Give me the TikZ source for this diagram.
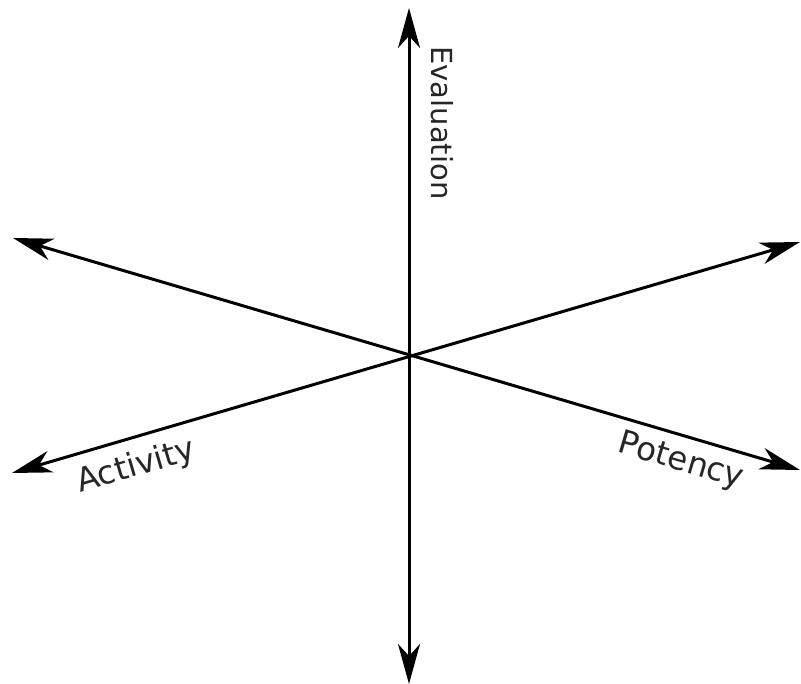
\documentclass[tikz,border=0pt]{standalone}
\usepackage{fontspec}
\setmainfont{DejaVu Sans}
\usetikzlibrary{arrows.meta}
\begin{document}
\begin{tikzpicture}[x=1pt,y=-1pt,
  axis/.style={line width=3pt,{Stealth[length=40pt,width=22pt,inset=12pt]}-{Stealth[length=40pt,width=22pt,inset=12pt]}},
  lab/.style={inner sep=0pt,text=black!85},
  vlab/.style={lab,font=\fontsize{29}{32}\selectfont},
  dlab/.style={lab,font=\fontsize{32.5}{36}\selectfont}]
\useasboundingbox (0,0) rectangle (801,684);
\coordinate (n) at (409,8);
\coordinate (s) at (409,684);
\coordinate (ul) at (13,238);
\coordinate (lr) at (800,470);
\coordinate (ll) at (12,473);
\coordinate (ur) at (800,242);
\draw[axis] (s) -- (n);
\draw[axis] (ul) -- (lr);
\draw[axis] (ll) -- (ur);
\node[vlab,rotate=-90] (ev) at (442,123) {Evaluation};
\node[dlab,rotate=16.3] (ac) at (136,467) {Activity};
\node[dlab,rotate=-16.4] (po) at (681,462) {Potency};
\end{tikzpicture}
\end{document}
